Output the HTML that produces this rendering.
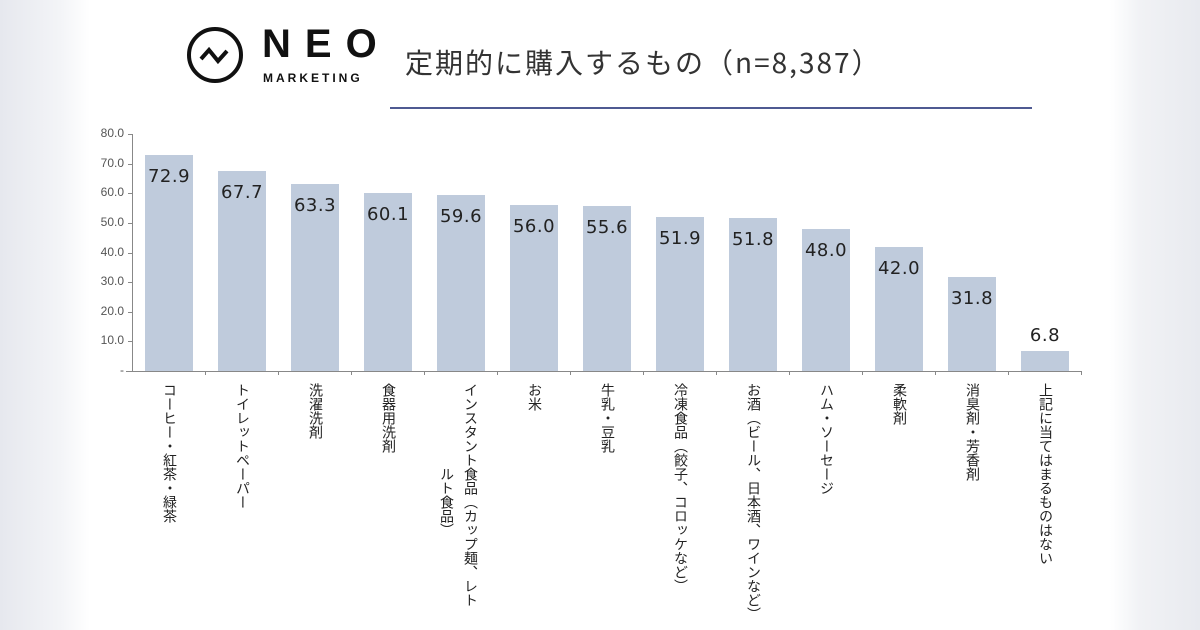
<!DOCTYPE html>
<html><head><meta charset="utf-8"><style>
body{margin:0;width:1200px;height:630px;overflow:hidden;position:relative;font-family:"Liberation Sans","Noto Sans CJK JP",sans-serif;
background:linear-gradient(90deg,#e6e8ee 0,#f3f4f7 60px,#fff 90px,#fff 1110px,#f1f2f5 1140px,#e8eaef 1200px);}
.bar{position:absolute;background:#bfcbdc;width:48px}
.v{position:absolute;width:60px;text-align:center;font-size:18px;color:#222;font-family:"DejaVu Sans",sans-serif;letter-spacing:0.5px}
.yl{position:absolute;left:88px;width:36px;text-align:right;font-size:12px;color:#555}
.lab{position:absolute;top:383px;writing-mode:vertical-rl;font-size:14px;line-height:16px;color:#222;font-family:"Noto Sans CJK JP",sans-serif}
</style></head><body>
<svg style="position:absolute;left:186px;top:26px" width="60" height="60"><circle cx="29" cy="29" r="26" fill="none" stroke="#111" stroke-width="4"/><polyline points="15,33 23,24 32,35 41,25" fill="none" stroke="#111" stroke-width="4"/></svg>
<div style="position:absolute;left:262px;top:22px;font-size:40px;font-weight:bold;letter-spacing:14px;color:#111">NEO</div>
<div style="position:absolute;left:263px;top:71px;font-size:12px;font-weight:bold;letter-spacing:3px;color:#111">MARKETING</div>
<div style="position:absolute;left:405px;top:42px;font-size:28px;letter-spacing:2px;color:#333;font-family:'Noto Sans CJK JP',sans-serif">定期的に購入するもの（n=8,387）</div>
<div style="position:absolute;left:390px;top:107px;width:642px;height:2px;background:#4f5a92"></div>
<div style="position:absolute;left:132px;top:134px;width:1px;height:238px;background:#888"></div>
<div style="position:absolute;left:126px;top:371px;width:956px;height:1px;background:#888"></div>
<div id="c"></div>
<script>
var d=[72.9,67.7,63.3,60.1,59.6,56.0,55.6,51.9,51.8,48.0,42.0,31.8,6.8];
var L=["コーヒー・紅茶・緑茶","トイレットペーパー","洗濯洗剤","食器用洗剤","","お米","牛乳・豆乳","冷凍食品（餃子、コロッケなど）","お酒（ビール、日本酒、ワインなど）","ハム・ソーセージ","柔軟剤","消臭剤・芳香剤","上記に当てはまるものはない"];
var h="";
for(var t=0;t<=8;t++){var y=371-t*29.6;h+='<div class="yl" style="top:'+(y-8)+'px">'+(t?(t*10).toFixed(1):'-')+'</div><div style="position:absolute;left:128px;top:'+y+'px;width:4px;height:1px;background:#888"></div>';}
for(var i=0;i<13;i++){var x=145+i*73,bh=d[i]*2.96,bt=371-bh;
h+='<div class="bar" style="left:'+x+'px;top:'+bt+'px;height:'+bh+'px"></div>';
h+='<div class="v" style="left:'+(x-6)+'px;top:'+(i==12?bt-26:bt+11)+'px">'+d[i].toFixed(1)+'</div>';
h+='<div style="position:absolute;left:'+(132+73*(i+1))+'px;top:371px;width:1px;height:4px;background:#888"></div>';
if(L[i])h+='<div class="lab" style="left:'+(x+17)+'px">'+L[i]+'</div>';}
h+='<div class="lab" style="left:'+(145+4*73+26)+'px">インスタント食品（カップ麺、レト</div>';
h+='<div class="lab" style="left:'+(145+4*73+2)+'px;top:467px">ルト食品）</div>';
document.getElementById('c').innerHTML=h;
</script>
</body></html>
